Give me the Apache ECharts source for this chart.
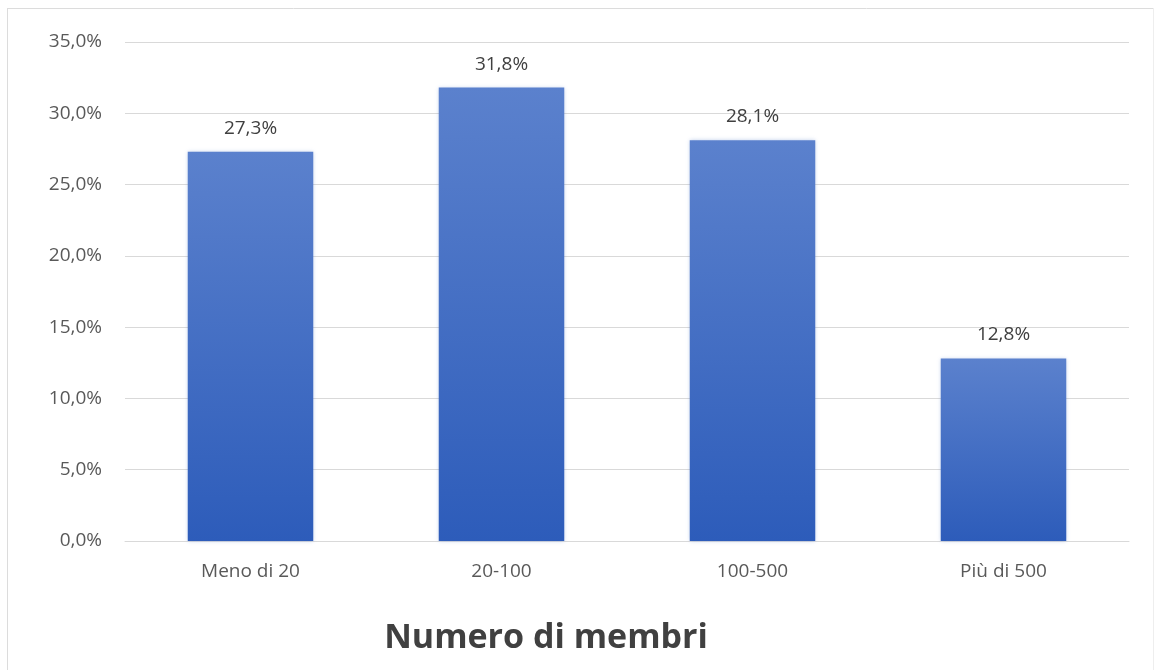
<!DOCTYPE html>
<html>
<head>
<meta charset="utf-8">
<script src="https://cdn.jsdelivr.net/npm/echarts@6/dist/echarts.min.js"></script>
<style>html,body{margin:0;padding:0;background:#fff}#c{width:1155px;height:670px}</style>
</head>
<body>
<div id="c"></div>
<script>
const categories = ['Meno di 20', '20-100', '100-500', 'Più di 500'];
const values = [27.3, 31.8, 28.1, 12.8];
const axisTitle = 'Numero di membri';

const fmt = v => v.toFixed(1).replace('.', ',') + '%';
const chart = echarts.init(document.getElementById('c'));
chart.setOption({
  animation: false,
  textStyle: { fontFamily: 'Open Sans' },
  graphic: [
    { type: 'line', shape: { x1: 7, y1: 8.5, x2: 1153, y2: 8.5 }, style: { stroke: '#dcdcdc', lineWidth: 1 } },
    { type: 'line', shape: { x1: 7.5, y1: 8, x2: 7.5, y2: 670 }, style: { stroke: '#dcdcdc', lineWidth: 1 } },
    { type: 'line', shape: { x1: 1153.5, y1: 8, x2: 1153.5, y2: 670 }, style: { stroke: '#eeeeee', lineWidth: 1 } }
  ],
  grid: { left: 125, right: 26, top: 42, bottom: 129 },
  xAxis: {
    type: 'category', data: categories,
    axisLine: { lineStyle: { color: '#d9d9d9' } },
    axisTick: { show: false },
    axisLabel: { color: '#595959', fontSize: 19, margin: 21 },
    name: axisTitle, nameLocation: 'middle', nameGap: 80,
    nameTextStyle: { fontSize: 34, fontWeight: 'bold', color: '#404040', padding: [0, 162, 0, 0] }
  },
  yAxis: {
    type: 'value', min: 0, max: 35, interval: 5,
    axisLine: { show: false }, axisTick: { show: false },
    splitLine: { lineStyle: { color: '#d9d9d9' } },
    axisLabel: { color: '#595959', fontSize: 19, margin: 23, formatter: v => fmt(v) }
  },
  series: [{
    type: 'bar', data: values, barWidth: '50%',
    itemStyle: {
      color: new echarts.graphic.LinearGradient(0, 0, 0, 1, [
        { offset: 0, color: '#5b81cd' },
        { offset: 1, color: '#2d5cba' }
      ]),
      shadowColor: 'rgba(80,120,200,0.35)', shadowBlur: 4
    },
    label: { show: true, position: 'top', distance: 14, color: '#404040', fontSize: 19, formatter: p => fmt(p.value) }
  }]
});
</script>
</body>
</html>
